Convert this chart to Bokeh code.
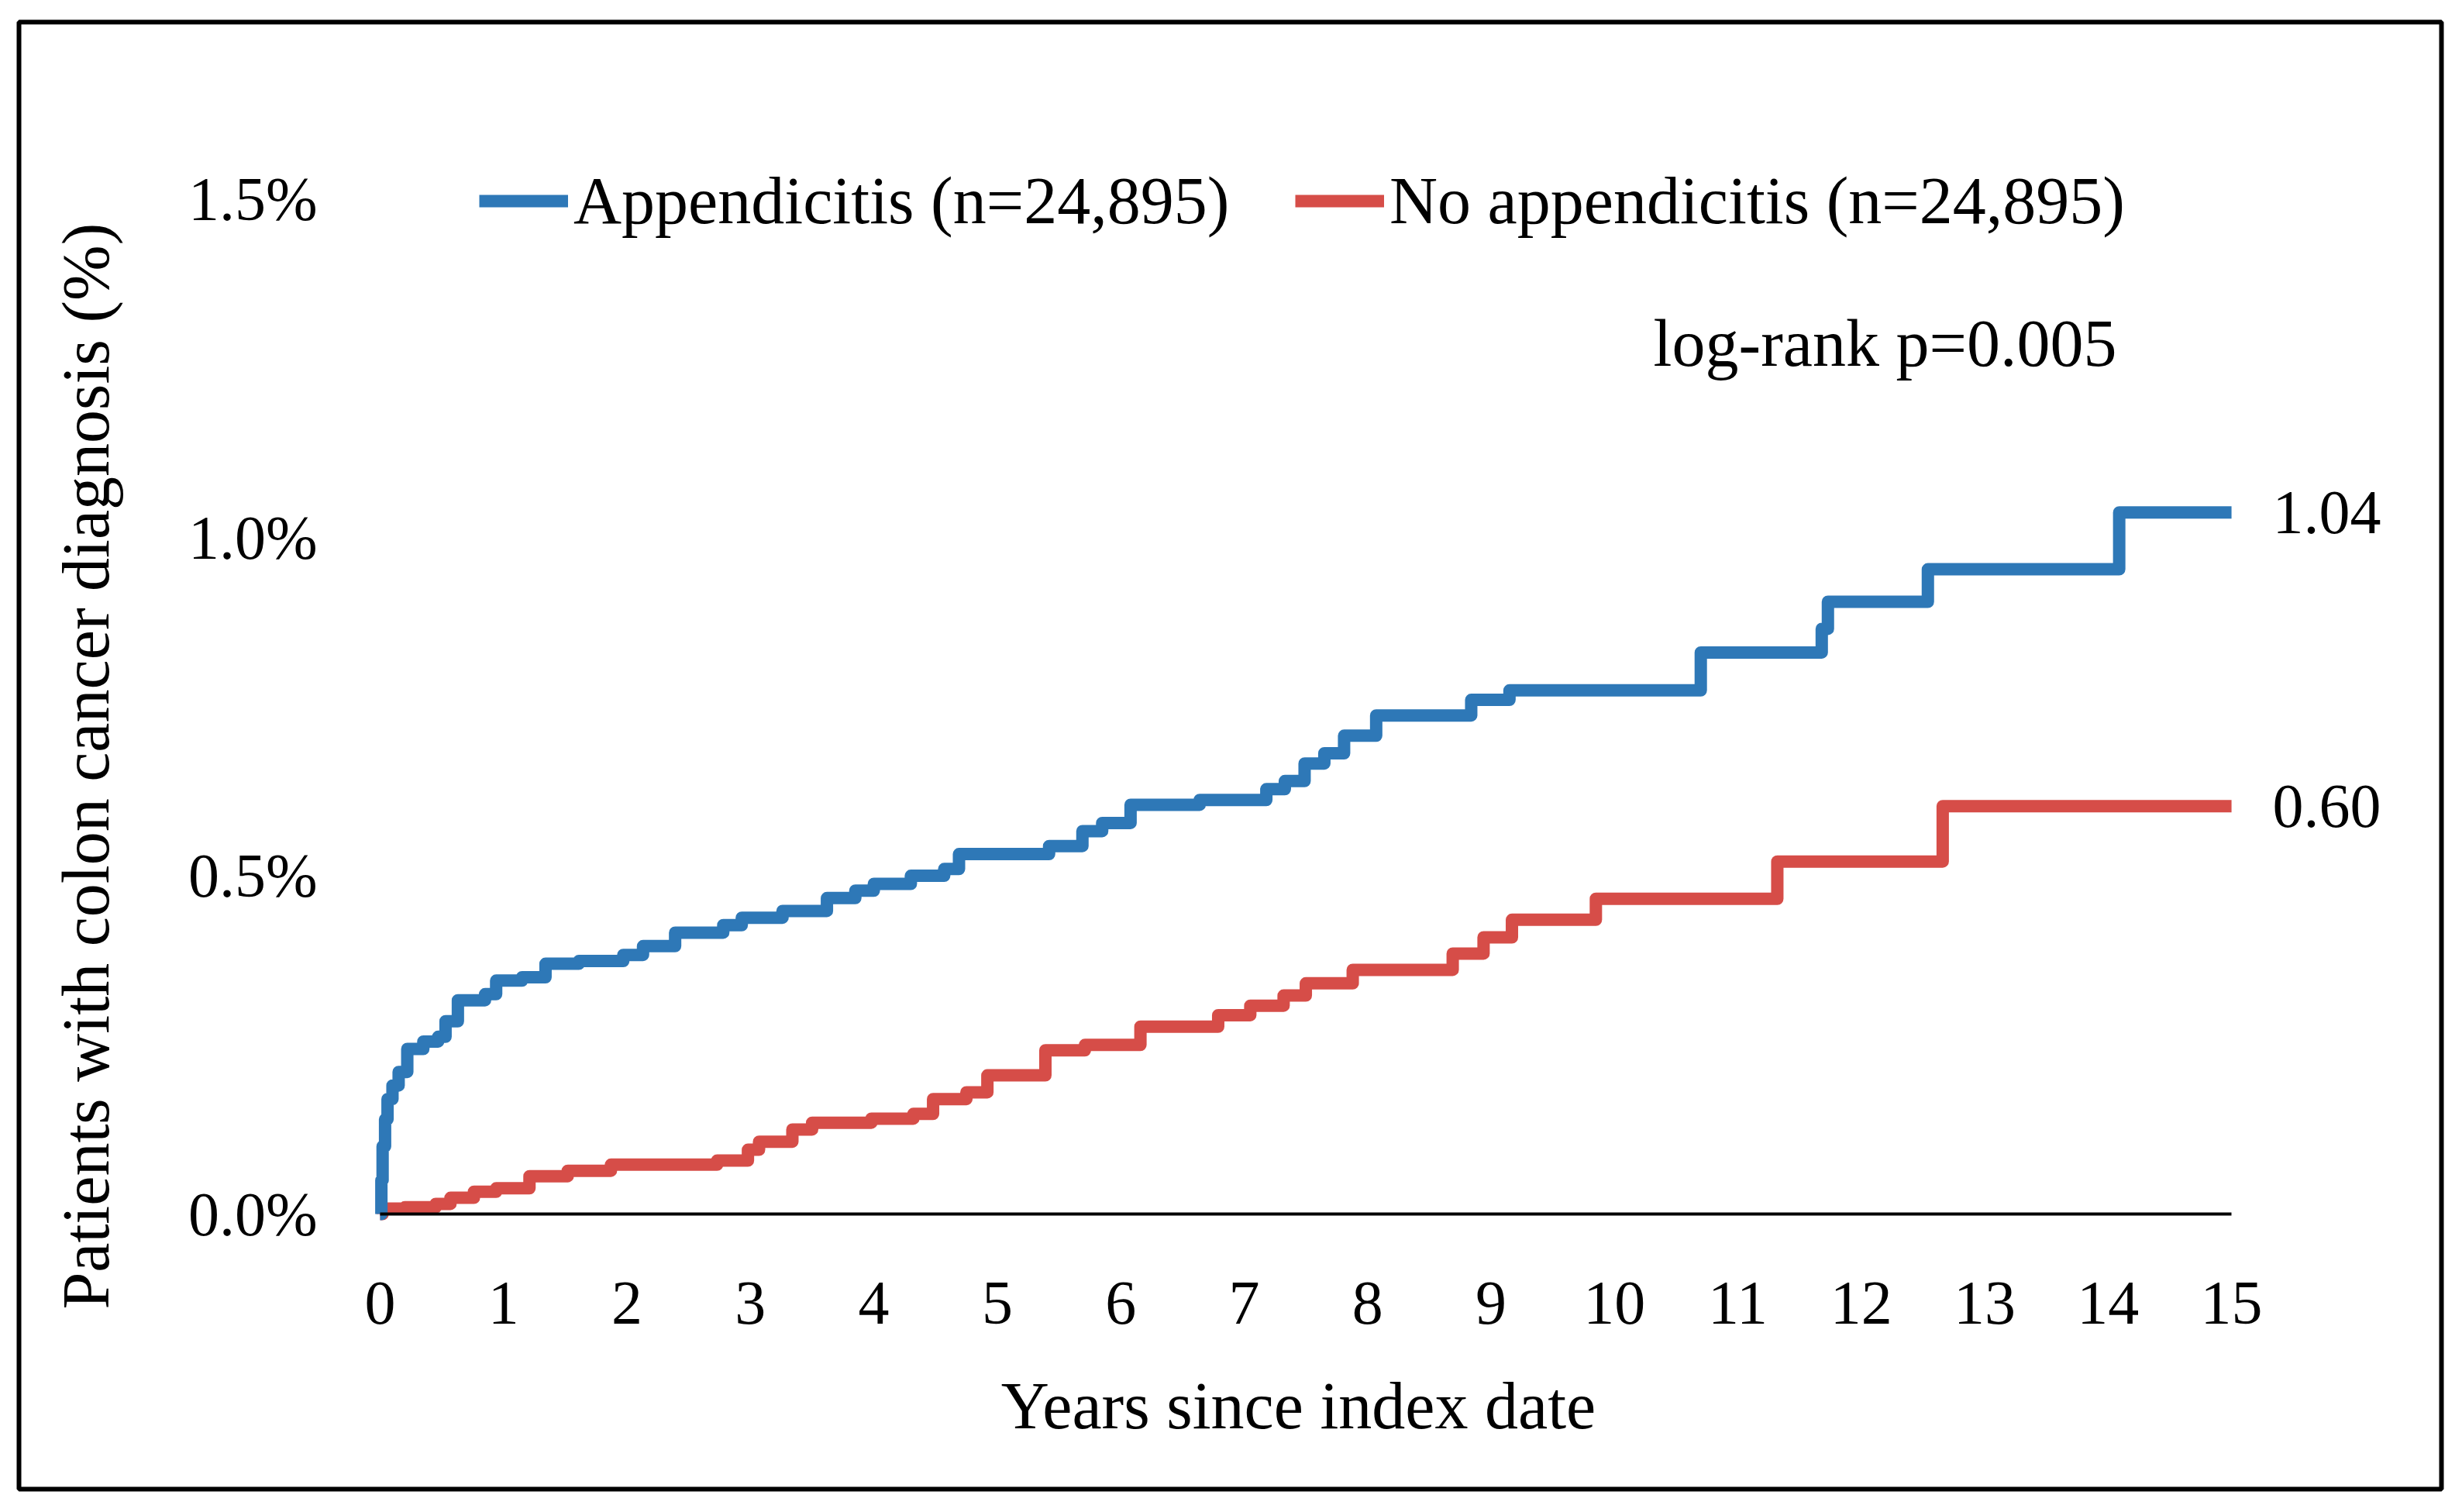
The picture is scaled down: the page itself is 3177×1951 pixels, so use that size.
import math
from bokeh.plotting import figure
from bokeh.models import Range1d, FixedTicker, Label, Legend, LegendItem
from bokeh.embed import file_html
from bokeh.resources import INLINE

# ---- data ----
years_appendicitis = [0.00, 0.01, 0.02, 0.04, 0.06, 0.10, 0.15, 0.22, 0.35, 0.47, 0.53, 0.63,
                      0.85, 0.94, 1.15, 1.34, 1.61, 1.97, 2.13, 2.39, 2.78, 2.93, 3.26, 3.62,
                      3.85, 4.00, 4.30, 4.57, 4.69, 5.42, 5.69, 5.85, 6.08, 6.64, 7.18, 7.33,
                      7.49, 7.65, 7.81, 8.07, 8.84, 9.15, 10.70, 11.68, 11.73, 12.54, 14.09]
pct_appendicitis = [0.000, 0.050, 0.100, 0.140, 0.170, 0.190, 0.210, 0.244, 0.255, 0.262, 0.285, 0.316,
                    0.325, 0.345, 0.350, 0.370, 0.374, 0.383, 0.396, 0.416, 0.427, 0.438, 0.448, 0.467,
                    0.478, 0.488, 0.500, 0.510, 0.532, 0.544, 0.566, 0.578, 0.605, 0.612, 0.628, 0.640,
                    0.666, 0.681, 0.707, 0.737, 0.760, 0.774, 0.830, 0.865, 0.905, 0.953, 1.037]

years_no_appendicitis = [0.00, 0.02, 0.20, 0.45, 0.57, 0.76, 0.94, 1.21, 1.52, 1.87, 2.73, 2.98,
                         3.07, 3.34, 3.50, 3.98, 4.32, 4.48, 4.75, 4.92, 5.39, 5.71, 6.16, 6.79,
                         7.05, 7.32, 7.50, 7.88, 8.69, 8.94, 9.17, 9.85, 11.32, 12.66]
pct_no_appendicitis = [0.000, 0.008, 0.010, 0.015, 0.024, 0.033, 0.038, 0.056, 0.064, 0.073, 0.079, 0.095,
                       0.107, 0.125, 0.135, 0.141, 0.148, 0.170, 0.180, 0.205, 0.242, 0.250, 0.277, 0.294,
                       0.308, 0.323, 0.341, 0.361, 0.385, 0.409, 0.435, 0.466, 0.521, 0.603]

x_ticks = list(range(0, 16))
y_ticks = [0.0, 0.5, 1.0, 1.5]
y_tick_labels = ["0.0%", "0.5%", "1.0%", "1.5%"]
series_names = ["Appendicitis (n=24,895)", "No appendicitis (n=24,895)"]
end_labels = ["1.04", "0.60"]
end_values = [1.037, 0.603]
annotation_text = "log-rank p=0.005"
x_title = "Years since index date"
y_title = "Patients with colon cancer diagnosis (%)"

FONT = "Liberation Serif"
FS_TICK = "80px"
FS_TEXT = "86px"
BLUE = "#2E78B7"
RED = "#D64D48"
LW = 16

x_end = x_ticks[-1]

# the frame covers the whole boxed area; axes are pinned at x=0 / y=0
p = figure(
    output_backend="svg", toolbar_location=None,
    frame_width=3126, frame_height=1893,
    x_range=Range1d(-2.926, 16.701), y_range=Range1d(-0.4066, 1.7618),
    min_border_left=24, min_border_right=6, min_border_top=28, min_border_bottom=6,
    background_fill_color="white", border_fill_color="white",
)
p.outline_line_color = "black"
p.outline_line_width = 6
p.grid.visible = False

# x axis
xa = p.xaxis[0]
xa.fixed_location = 0
xa.ticker = FixedTicker(ticks=x_ticks)
xa.bounds = (x_ticks[0], x_ticks[-1])
xa.axis_line_color = "black"
xa.axis_line_width = 4
xa.major_tick_line_color = None
xa.minor_tick_line_color = None
xa.major_label_text_font = FONT
xa.major_label_text_font_size = FS_TICK
xa.major_label_text_color = "black"
xa.major_label_standoff = 82

# y axis
ya = p.yaxis[0]
ya.fixed_location = 0
ya.ticker = FixedTicker(ticks=y_ticks)
ya.major_label_overrides = {t: s for t, s in zip(y_ticks, y_tick_labels)}
ya.axis_line_color = None
ya.major_tick_line_color = None
ya.minor_tick_line_color = None
ya.major_tick_out = 0
ya.major_label_text_font = FONT
ya.major_label_text_font_size = FS_TICK
ya.major_label_text_color = "black"
ya.major_label_standoff = 81

# curves
xb = years_appendicitis + [x_end]
yb = pct_appendicitis + [pct_appendicitis[-1]]
xr = years_no_appendicitis + [x_end]
yr = pct_no_appendicitis + [pct_no_appendicitis[-1]]

r_red = p.step(xr, yr, mode="after", line_width=LW, line_color=RED, line_join="round")
r_blue = p.step(xb, yb, mode="after", line_width=LW, line_color=BLUE, line_join="round")

# legends (one per item, positioned like the reference)
def make_legend(label, renderer, loc):
    return Legend(items=[LegendItem(label=label, renderers=[renderer])],
                  location=loc, orientation="horizontal",
                  glyph_width=115, glyph_height=70, label_height=70, label_standoff=7,
                  padding=0, margin=0, spacing=0,
                  border_line_alpha=0, background_fill_alpha=0,
                  label_text_font=FONT, label_text_font_size=FS_TEXT, label_text_color="black")

p.add_layout(make_legend(series_names[0], r_blue, (594, 1612)))
p.add_layout(make_legend(series_names[1], r_red, (1647, 1612)))

# end labels
for txt, v in zip(end_labels, end_values):
    p.add_layout(Label(x=x_end, y=v, text=txt, x_offset=53,
                       text_align="left", text_baseline="middle",
                       text_font=FONT, text_font_size=FS_TICK, text_color="black"))

# annotation
p.add_layout(Label(x=14.07, y=1.287, text=annotation_text,
                   text_align="right", text_baseline="middle",
                   text_font=FONT, text_font_size=FS_TEXT, text_color="black"))

# axis titles
p.add_layout(Label(x=7.44, y=-0.283, text=x_title,
                   text_align="center", text_baseline="middle",
                   text_font=FONT, text_font_size=FS_TEXT, text_color="black"))
p.add_layout(Label(x=-2.38, y=0.662, text=y_title, angle=math.pi / 2,
                   text_align="center", text_baseline="middle",
                   text_font=FONT, text_font_size=FS_TEXT, text_color="black"))

open("out.html", "w").write(file_html(p, INLINE))
